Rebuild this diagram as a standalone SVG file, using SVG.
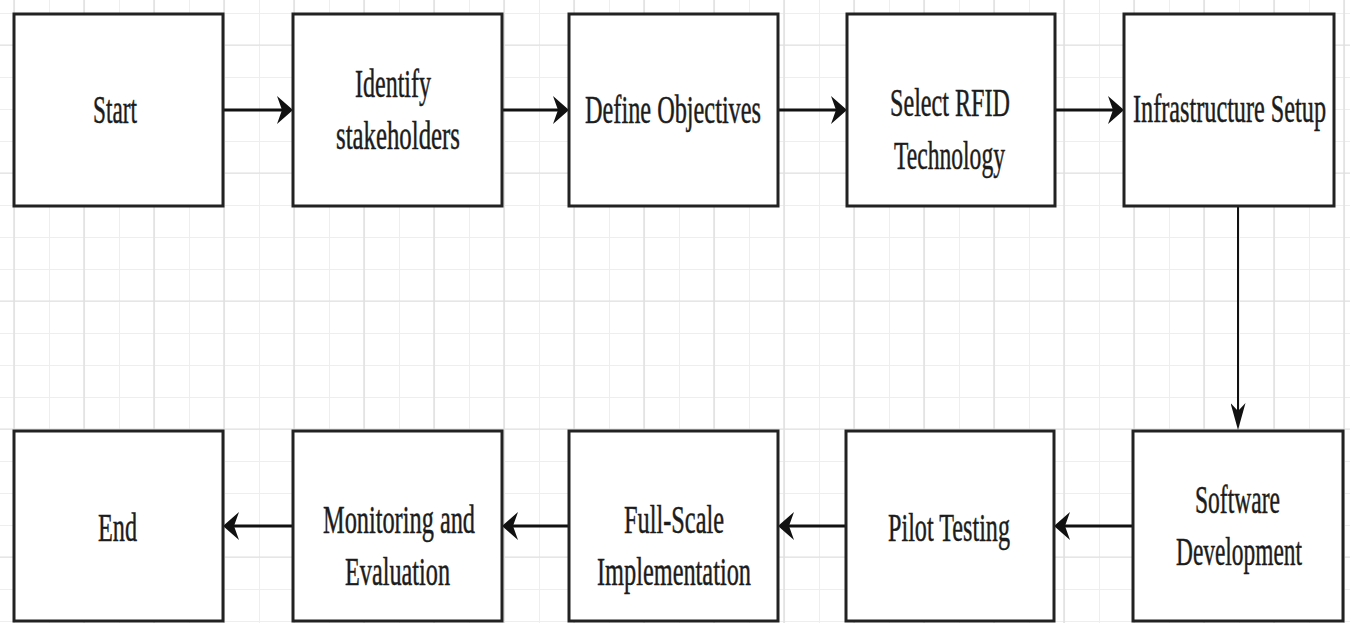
<svg xmlns="http://www.w3.org/2000/svg" width="1350" height="623" viewBox="0 0 1350 623">
  <style>
    .box { fill: #ffffff; stroke: #222222; stroke-width: 3; }
    .lbl { font-family: "Liberation Serif", "DejaVu Serif", "Times New Roman", serif; font-size: 40px; fill: #1c1c1c; stroke: #1c1c1c; stroke-width: 0.5; text-anchor: middle; }
    .conn { stroke: #111111; stroke-width: 3; fill: none; }
    .thin { stroke-width: 2; }
  </style>
  <defs>
    <pattern id="gridMinor" patternUnits="userSpaceOnUse" x="14" y="13" width="35" height="32">
      <path d="M0,0.5 H35 M0.5,0 V32" stroke="#eeeeee" stroke-width="1" fill="none"/>
    </pattern>
    <pattern id="gridMajor" patternUnits="userSpaceOnUse" x="13.5" y="44.5" width="70" height="128">
      <path d="M0,0.5 H70 M0.5,0 V128" stroke="#dedede" stroke-width="1.2" fill="none"/>
    </pattern>
    <pattern id="gridMid" patternUnits="userSpaceOnUse" x="13.5" y="12.5" width="70" height="32">
      <path d="M0.5,0 V32" stroke="#e4e4e4" stroke-width="1" fill="none"/>
    </pattern>
    <marker id="arrowH" markerUnits="userSpaceOnUse" viewBox="0 0 16 28" refX="8" refY="14" markerWidth="16" markerHeight="28" orient="auto">
      <path d="M0,0 L16,14 L0,28 L5,14 z" fill="#111111"/>
    </marker>
    <marker id="arrowV" markerUnits="userSpaceOnUse" viewBox="0 0 27 15" refX="12" refY="7.5" markerWidth="27" markerHeight="15" orient="auto">
      <path d="M0,0 L27,7.5 L0,15 L8,7.5 z" fill="#111111"/>
    </marker>
  </defs>

  <g id="background">
    <rect x="0" y="0" width="1350" height="623" fill="#ffffff"/>
    <rect x="0" y="0" width="1350" height="623" fill="url(#gridMinor)"/>
    <rect x="0" y="0" width="1350" height="623" fill="url(#gridMid)"/>
    <rect x="0" y="0" width="1350" height="623" fill="url(#gridMajor)"/>
  </g>

  <g id="connectors">
    <line class="conn" x1="223" y1="110" x2="285" y2="110" marker-end="url(#arrowH)"/>
    <line class="conn" x1="502" y1="110" x2="561" y2="110" marker-end="url(#arrowH)"/>
    <line class="conn" x1="778" y1="110" x2="839" y2="110" marker-end="url(#arrowH)"/>
    <line class="conn" x1="1055" y1="110" x2="1116" y2="110" marker-end="url(#arrowH)"/>
    <line class="conn thin" x1="1238" y1="207" x2="1238" y2="415" marker-end="url(#arrowV)"/>
    <line class="conn" x1="1133" y1="526" x2="1062" y2="526" marker-end="url(#arrowH)"/>
    <line class="conn" x1="846" y1="526" x2="786" y2="526" marker-end="url(#arrowH)"/>
    <line class="conn" x1="569" y1="526" x2="510" y2="526" marker-end="url(#arrowH)"/>
    <line class="conn" x1="293" y1="526" x2="231" y2="526" marker-end="url(#arrowH)"/>
  </g>

  <g id="start">
    <rect class="box" x="14" y="14" width="209" height="192"/>
    <text class="lbl" x="115" y="123" textLength="44" lengthAdjust="spacingAndGlyphs">Start</text>
  </g>
  <g id="identify-stakeholders">
    <rect class="box" x="293" y="14" width="209" height="192"/>
    <text class="lbl" x="393" y="97" textLength="76" lengthAdjust="spacingAndGlyphs">Identify</text>
    <text class="lbl" x="398" y="149" textLength="124" lengthAdjust="spacingAndGlyphs">stakeholders</text>
  </g>
  <g id="define-objectives">
    <rect class="box" x="569" y="14" width="209" height="192"/>
    <text class="lbl" x="673" y="123" textLength="176" lengthAdjust="spacingAndGlyphs">Define Objectives</text>
  </g>
  <g id="select-rfid">
    <rect class="box" x="847" y="14" width="208" height="192"/>
    <text class="lbl" x="950" y="116" textLength="120" lengthAdjust="spacingAndGlyphs">Select RFID</text>
    <text class="lbl" x="949.5" y="169" textLength="111" lengthAdjust="spacingAndGlyphs">Technology</text>
  </g>
  <g id="infrastructure-setup">
    <rect class="box" x="1124" y="14" width="210" height="192"/>
    <text class="lbl" x="1229.5" y="122" textLength="193" lengthAdjust="spacingAndGlyphs">Infrastructure Setup</text>
  </g>

  <g id="software-development">
    <rect class="box" x="1133" y="431" width="210" height="190"/>
    <text class="lbl" x="1237.5" y="513" textLength="85" lengthAdjust="spacingAndGlyphs">Software</text>
    <text class="lbl" x="1239" y="565" textLength="126" lengthAdjust="spacingAndGlyphs">Development</text>
  </g>
  <g id="pilot-testing">
    <rect class="box" x="846" y="431" width="208" height="190"/>
    <text class="lbl" x="949" y="541" textLength="122" lengthAdjust="spacingAndGlyphs">Pilot Testing</text>
  </g>
  <g id="full-scale-implementation">
    <rect class="box" x="569" y="431" width="209" height="190"/>
    <text class="lbl" x="674" y="533" textLength="100" lengthAdjust="spacingAndGlyphs">Full-Scale</text>
    <text class="lbl" x="674" y="585" textLength="154" lengthAdjust="spacingAndGlyphs">Implementation</text>
  </g>
  <g id="monitoring-evaluation">
    <rect class="box" x="293" y="431" width="209" height="190"/>
    <text class="lbl" x="399" y="533" textLength="152" lengthAdjust="spacingAndGlyphs">Monitoring and</text>
    <text class="lbl" x="397.5" y="585" textLength="105" lengthAdjust="spacingAndGlyphs">Evaluation</text>
  </g>
  <g id="end">
    <rect class="box" x="14" y="431" width="209" height="190"/>
    <text class="lbl" x="117.5" y="541" textLength="39" lengthAdjust="spacingAndGlyphs">End</text>
  </g>
</svg>
